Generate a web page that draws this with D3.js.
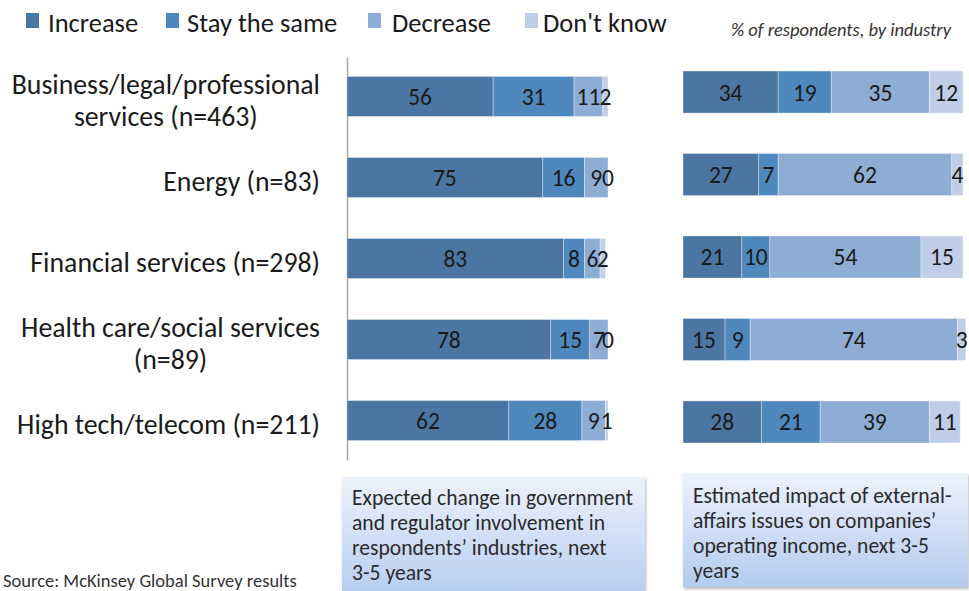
<!DOCTYPE html>
<html><head><meta charset="utf-8">
<script src="https://cdn.jsdelivr.net/npm/d3@7/dist/d3.min.js"></script>
<style>body{margin:0;background:#fff}svg{display:block}text{font-family:Carlito,Lato,"Open Sans",sans-serif}</style>
</head><body><svg id="c" width="969" height="591"></svg>
<script>
const categoryLines = [["Business/legal/professional","services (n=463)"],["Energy (n=83)"],["Financial services (n=298)"],["Health care/social services","(n=89)"],["High tech/telecom (n=211)"]];
const series = ["Increase","Stay the same","Decrease","Don't know"];
const colors = ["#4a76a1","#4f88bd","#8dadd4","#bfcee6"];
const govIncrease = [56,75,83,78,62];
const govSame = [31,16,8,15,28];
const govDecrease = [11,9,6,7,9];
const govDontKnow = [2,0,2,0,1];
const incIncrease = [34,27,21,15,28];
const incSame = [19,7,10,9,21];
const incDecrease = [35,62,54,74,39];
const incDontKnow = [12,4,15,3,11];
const subtitle = "% of respondents, by industry";
const leftCaption = ["Expected change in government","and regulator involvement in","respondents\u2019 industries, next","3-5 years"];
const rightCaption = ["Estimated impact of external-","affairs issues on companies\u2019","operating income, next 3-5","years"];
const source = "Source: McKinsey Global Survey results";

const svg = d3.select("#c");
const defs = svg.append("defs");
const grad = defs.append("linearGradient").attr("id","g").attr("x1",0).attr("y1",0).attr("x2",0).attr("y2",1);
grad.append("stop").attr("offset","0%").attr("stop-color","#edf2fc");
grad.append("stop").attr("offset","100%").attr("stop-color","#b3cbf0");
const f = defs.append("filter").attr("id","sh").attr("x","-10%").attr("y","-10%").attr("width","130%").attr("height","130%");
f.append("feDropShadow").attr("dx",1).attr("dy",2).attr("stdDeviation",1.5).attr("flood-color","#888").attr("flood-opacity",0.6);

const idx = d3.range(categoryLines.length);
const rows = (a,b,c,d) => idx.map(i => ({i, vals:[a[i],b[i],c[i],d[i]]}));

function panel(data, x, y, withAxis){
  const g = svg.append("g");
  if (withAxis){
    const ax = g.append("g").attr("transform",`translate(${x.range()[0]},0)`)
      .call(d3.axisLeft(y).tickSize(0).tickFormat(""));
    ax.select(".domain").attr("stroke","#a6a6a6").attr("stroke-width",1.5);
  }
  data.forEach(r => {
    const stack = d3.stack().keys([0,1,2,3])([r.vals]);
    stack.forEach((s,k) => {
      const [x0,x1] = s[0];
      g.append("rect").attr("x",x(x0)).attr("y",y(r.i)).attr("width",Math.max(0,x(x1)-x(x0)))
        .attr("height",y.bandwidth()).attr("fill",colors[k])
        .attr("stroke","#ffffff").attr("stroke-opacity",0.35).attr("stroke-width",1);
    });
    stack.forEach((s,k) => {
      const [x0,x1] = s[0];
      g.append("text").attr("x",x((x0+x1)/2)).attr("y",y(r.i)+y.bandwidth()/2).attr("dy","0.36em")
        .attr("text-anchor","middle").attr("font-size",23.5).attr("fill","#1a1a1a").text(r.vals[k]);
    });
  });
}

const yL = d3.scaleBand().domain(idx).range([57,460]).paddingInner(0.506).paddingOuter(0.24);
const xL = d3.scaleLinear().domain([0,100]).range([347,608]);
panel(rows(govIncrease,govSame,govDecrease,govDontKnow), xL, yL, true);

const yR = d3.scaleBand().domain(idx).range([57,457]).paddingInner(0.49).paddingOuter(0.17);
const xR = d3.scaleLinear().domain([0,100]).range([683,963]);
panel(rows(incIncrease,incSame,incDecrease,incDontKnow), xR, yR, false);

// category labels: block of centered lines, right edge at x=320
idx.forEach(i => {
  const lines = categoryLines[i];
  const cy = yL(i)+yL.bandwidth()/2 + 3.5;
  const lh = 32;
  const t = svg.append("text").attr("font-size",27.8).attr("fill","#1a1a1a").attr("text-anchor","middle");
  const spans = lines.map((l,j) => t.append("tspan").attr("x",0)
    .attr("y", cy + (j-(lines.length-1)/2)*lh).attr("dy","0.36em").text(l));
  const w = d3.max(spans, s => s.node().getComputedTextLength());
  spans.forEach(s => s.attr("x", 320 - w/2));
});

// legend
const legSq = [26,166,368,525];
const legTx = [48,187,392,543];
series.forEach((s,k) => {
  svg.append("rect").attr("x",legSq[k]).attr("y",13).attr("width",13).attr("height",15).attr("fill",colors[k]);
  svg.append("text").attr("x",legTx[k]).attr("y",22).attr("dy","0.36em").attr("font-size",26.5).attr("fill","#1a1a1a").text(s);
});
svg.append("text").attr("x",951).attr("y",30).attr("dy","0.35em").attr("text-anchor","end")
  .attr("font-size",18.5).attr("font-style","italic").attr("fill","#333").text(subtitle);

// caption boxes
function box(x0,y0,w,h,lines,tx,ty0){
  svg.append("rect").attr("x",x0).attr("y",y0).attr("width",w).attr("height",h).attr("fill","url(#g)").attr("filter","url(#sh)");
  lines.forEach((l,j) => svg.append("text").attr("x",tx).attr("y",ty0+j*25).attr("dy","0.35em")
    .attr("font-size",21.6).attr("fill","#2b2b2b").text(l));
}
box(342,477,303,125,leftCaption,352,497);
box(683,473,285,114,rightCaption,693,495);

svg.append("text").attr("x",3).attr("y",581).attr("dy","0.35em").attr("font-size",18.5).attr("fill","#333").text(source);
</script></body></html>
